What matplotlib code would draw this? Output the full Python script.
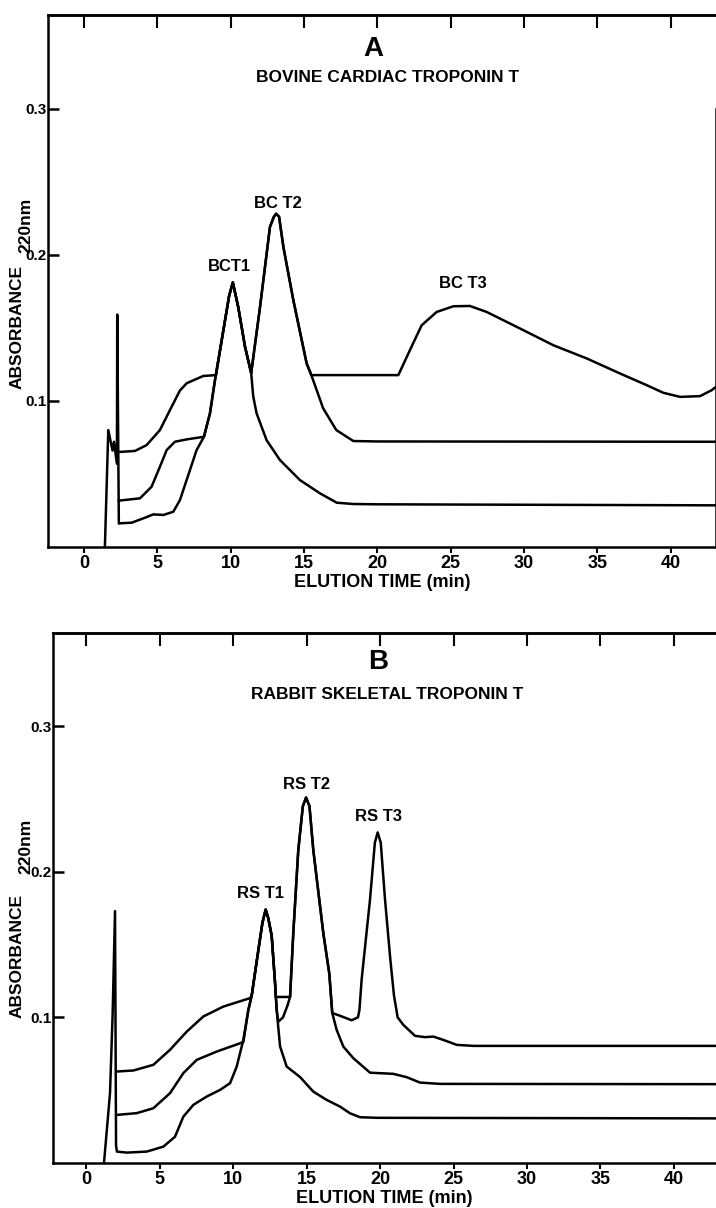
import numpy as np
import matplotlib.pyplot as plt

plt.rcParams['font.family'] = ['Liberation Sans', 'DejaVu Sans']
plt.rcParams['font.weight'] = 'bold'
plt.rcParams['axes.labelweight'] = 'bold'

# --- A: bovine cardiac troponin T (elution time in min, absorbance 220 nm)
# lower trace (BCT1), starts with the injection spike
bc1_x = [1.43, 1.66, 1.95, 2.05, 2.25, 2.27, 2.38, 2.45, 3.25, 4.05, 4.73, 5.41, 6.09,
         6.54, 7.0, 7.68, 8.18, 8.59, 8.93, 9.5, 9.9, 10.15, 10.52, 10.98, 11.4,
         11.54, 11.77, 12.45, 13.36, 14.72, 16.09, 17.23, 18.36, 20.0, 43.0]
bc1_y = [0.0, 0.080, 0.066, 0.072, 0.057, 0.159, 0.016, 0.0162, 0.0166, 0.0196, 0.0223,
         0.0219, 0.0241, 0.032, 0.0458, 0.0663, 0.0754, 0.0914, 0.114, 0.148, 0.172,
         0.181, 0.164, 0.137, 0.119, 0.103, 0.0914, 0.0731, 0.0595, 0.0458, 0.0367,
         0.0303, 0.0294, 0.0292, 0.0285]
# middle trace (BCT2)
bc2_x = [2.38, 3.82, 4.61, 5.18, 5.64, 6.2, 7.0, 8.18, 8.59, 8.93, 9.5, 9.9, 10.15,
         10.52, 10.98, 11.4, 12.0, 12.68, 12.95, 13.1, 13.3, 13.6, 14.27, 15.18, 15.5,
         16.3, 17.2, 18.36, 20.0, 43.0]
bc2_y = [0.0317, 0.0333, 0.0412, 0.0549, 0.0663, 0.072, 0.0736, 0.0754, 0.0914, 0.114,
         0.148, 0.172, 0.181, 0.164, 0.137, 0.119, 0.164, 0.219, 0.226, 0.228, 0.226,
         0.205, 0.169, 0.1256, 0.1176, 0.095, 0.080, 0.0725, 0.0722, 0.072]
# upper trace (BCT3)
bc3_x = [2.38, 3.48, 4.27, 5.18, 5.86, 6.54, 7.0, 7.45, 8.13, 9.0, 9.5, 9.9, 10.15,
         10.52, 10.98, 11.4, 12.0, 12.68, 12.95, 13.1, 13.3, 13.6, 14.27, 15.18, 15.5,
         21.43, 22.22, 23.02, 24.04, 25.18, 26.31, 27.45, 29.72, 32.0, 34.27, 36.54,
         38.36, 39.49, 40.63, 41.99, 42.79, 43.0]
bc3_y = [0.065, 0.0657, 0.0697, 0.080, 0.0936, 0.107, 0.112, 0.114, 0.117, 0.1176,
         0.148, 0.172, 0.181, 0.164, 0.137, 0.119, 0.164, 0.219, 0.226, 0.228, 0.226,
         0.205, 0.169, 0.1256, 0.1176, 0.1176, 0.1347, 0.1517, 0.1608, 0.1647, 0.1649,
         0.1608, 0.1495, 0.138, 0.129, 0.1187, 0.1107, 0.1055, 0.1027, 0.1032, 0.1073,
         0.109]

# --- B: rabbit skeletal troponin T
rs1_x = [1.22, 1.63, 1.81, 1.97, 2.04, 2.1, 2.77, 4.13, 5.26, 6.05, 6.62, 7.3, 8.21,
         9.12, 9.8, 10.25, 10.7, 11.04, 11.27, 11.72, 12.0, 12.22, 12.4, 12.63, 12.86,
         12.97, 13.2, 13.65, 14.56, 15.46, 16.37, 17.28, 17.96, 18.64, 19.8, 42.9]
rs1_y = [0.0, 0.048, 0.103, 0.173, 0.012, 0.0078, 0.0071, 0.0078, 0.0112, 0.018,
         0.0318, 0.0399, 0.0456, 0.0502, 0.0548, 0.0662, 0.0845, 0.105, 0.115, 0.146,
         0.165, 0.174, 0.168, 0.156, 0.1235, 0.105, 0.080, 0.0662, 0.059, 0.049,
         0.0433, 0.0387, 0.0341, 0.0314, 0.031, 0.0306]
rs2_x = [2.1, 3.45, 4.58, 5.71, 6.62, 7.53, 8.89, 10.7, 11.04, 11.27, 11.72, 12.0,
         12.22, 12.4, 12.63, 12.86, 12.97, 13.08, 13.4, 13.7, 13.88, 14.1, 14.44,
         14.75, 14.97, 15.2, 15.46, 16.14, 16.55, 16.75, 17.05, 17.5, 18.18, 19.32,
         20.9, 21.82, 22.72, 24.08, 42.9]
rs2_y = [0.033, 0.0342, 0.0376, 0.0479, 0.0617, 0.0708, 0.0765, 0.083, 0.105, 0.115,
         0.146, 0.165, 0.174, 0.168, 0.156, 0.1235, 0.105, 0.097, 0.100, 0.108, 0.114,
         0.158, 0.215, 0.245, 0.251, 0.245, 0.215, 0.158, 0.13, 0.103, 0.0914, 0.080,
         0.072, 0.062, 0.0612, 0.0589, 0.0552, 0.0543, 0.0541]
rs3_x = [2.1, 3.22, 4.58, 5.71, 6.85, 7.98, 9.34, 11.16, 11.27, 11.72, 12.0, 12.22,
         12.4, 12.63, 12.86, 12.9, 13.88, 14.1, 14.44, 14.75, 14.97, 15.2, 15.46, 16.14,
         16.55, 16.75, 17.3, 18.07, 18.5, 18.6, 18.75, 19.32, 19.65, 19.84, 20.05,
         20.34, 20.7, 20.95, 21.2, 21.59, 22.38, 23.06, 23.63, 24.31, 25.22, 26.35,
         42.9]
rs3_y = [0.0628, 0.0635, 0.0674, 0.0777, 0.0902, 0.1006, 0.1074, 0.1132, 0.115, 0.146,
         0.165, 0.174, 0.168, 0.156, 0.1235, 0.114, 0.114, 0.158, 0.215, 0.245, 0.251,
         0.245, 0.215, 0.158, 0.13, 0.103, 0.101, 0.098, 0.100, 0.105, 0.126, 0.181,
         0.220, 0.227, 0.220, 0.181, 0.14, 0.115, 0.100, 0.0948, 0.0873, 0.0864, 0.0868,
         0.0845, 0.0811, 0.0804, 0.0804]

x_ticks = [0, 5, 10, 15, 20, 25, 30, 35, 40]
y_ticks = [0.1, 0.2, 0.3]
y_labels = ['0.1', '0.2', '0.3']

bc_peaks = ['BCT1', 'BC T2', 'BC T3']
bc_peak_pos = [(9.95, 0.192), (13.2, 0.235), (25.8, 0.180)]
rs_peaks = ['RS T1', 'RS T2', 'RS T3']
rs_peak_pos = [(11.84, 0.185), (15.0, 0.260), (19.9, 0.238)]


def panel(ax, curves, xlim, letter, letter_pos, title, title_pos, peaks, peak_pos):
    for cx, cy in curves:
        ax.plot(cx, cy, color='black', lw=1.8, solid_joinstyle='round')
    ax.set_xlim(xlim)
    ax.set_ylim(0, 0.364)
    ax.set_xticks(x_ticks)
    ax.set_xticklabels([str(t) for t in x_ticks], fontsize=13)
    ax.set_yticks(y_ticks)
    ax.set_yticklabels(y_labels, fontsize=11)
    ax.tick_params(axis='x', direction='out', length=4, width=1.5, pad=2)
    ax.tick_params(axis='y', direction='in', length=8, width=1.8, pad=1)
    for s in ['left', 'bottom', 'top']:
        ax.spines[s].set_linewidth(1.8)
    top = ax.secondary_xaxis('top')
    top.set_xticks(x_ticks)
    top.tick_params(direction='in', length=9, width=1.5, labeltop=False)
    top.spines['top'].set_linewidth(1.8)
    ax.set_xlabel('ELUTION TIME (min)', fontsize=13, fontweight='bold', labelpad=1)
    ax.text(letter_pos[0], letter_pos[1], letter, fontsize=20, ha='center', va='center')
    ax.text(title_pos[0], title_pos[1], title, fontsize=12.5, ha='center', va='center')
    for lab, (px, py) in zip(peaks, peak_pos):
        ax.text(px, py, lab, fontsize=12, ha='center', va='center')


fig = plt.figure(figsize=(7.16, 12.08), dpi=100)

ax1 = fig.add_axes([0.067, 0.5472, 0.933, 0.4404])
panel(ax1, [(bc1_x, bc1_y), (bc2_x, bc2_y), (bc3_x, bc3_y)], (-2.45, 43.08),
      'A', (19.7, 0.341), 'BOVINE CARDIAC TROPONIN T', (20.7, 0.321),
      bc_peaks, bc_peak_pos)
ax1.spines['right'].set_bounds(0, 0.30)
ax1.spines['right'].set_linewidth(1.8)

ax2 = fig.add_axes([0.0736, 0.0373, 0.9264, 0.4387])
panel(ax2, [(rs1_x, rs1_y), (rs2_x, rs2_y), (rs3_x, rs3_y)], (-2.27, 42.86),
      'B', (19.9, 0.344), 'RABBIT SKELETAL TROPONIN T', (20.5, 0.322),
      rs_peaks, rs_peak_pos)
ax2.spines['right'].set_visible(False)

# y axis titles, "220nm" set off like a subscript
fig.text(17 / 716, 1 - 327 / 1208, 'ABSORBANCE', rotation=90, fontsize=12.5,
         ha='center', va='center')
fig.text(26 / 716, 1 - 225 / 1208, '220nm', rotation=90, fontsize=12.5,
         ha='center', va='center')
fig.text(17 / 716, 1 - 956 / 1208, 'ABSORBANCE', rotation=90, fontsize=12.5,
         ha='center', va='center')
fig.text(26 / 716, 1 - 846 / 1208, '220nm', rotation=90, fontsize=12.5,
         ha='center', va='center')

fig.savefig('out.png', dpi=100, facecolor='white')
